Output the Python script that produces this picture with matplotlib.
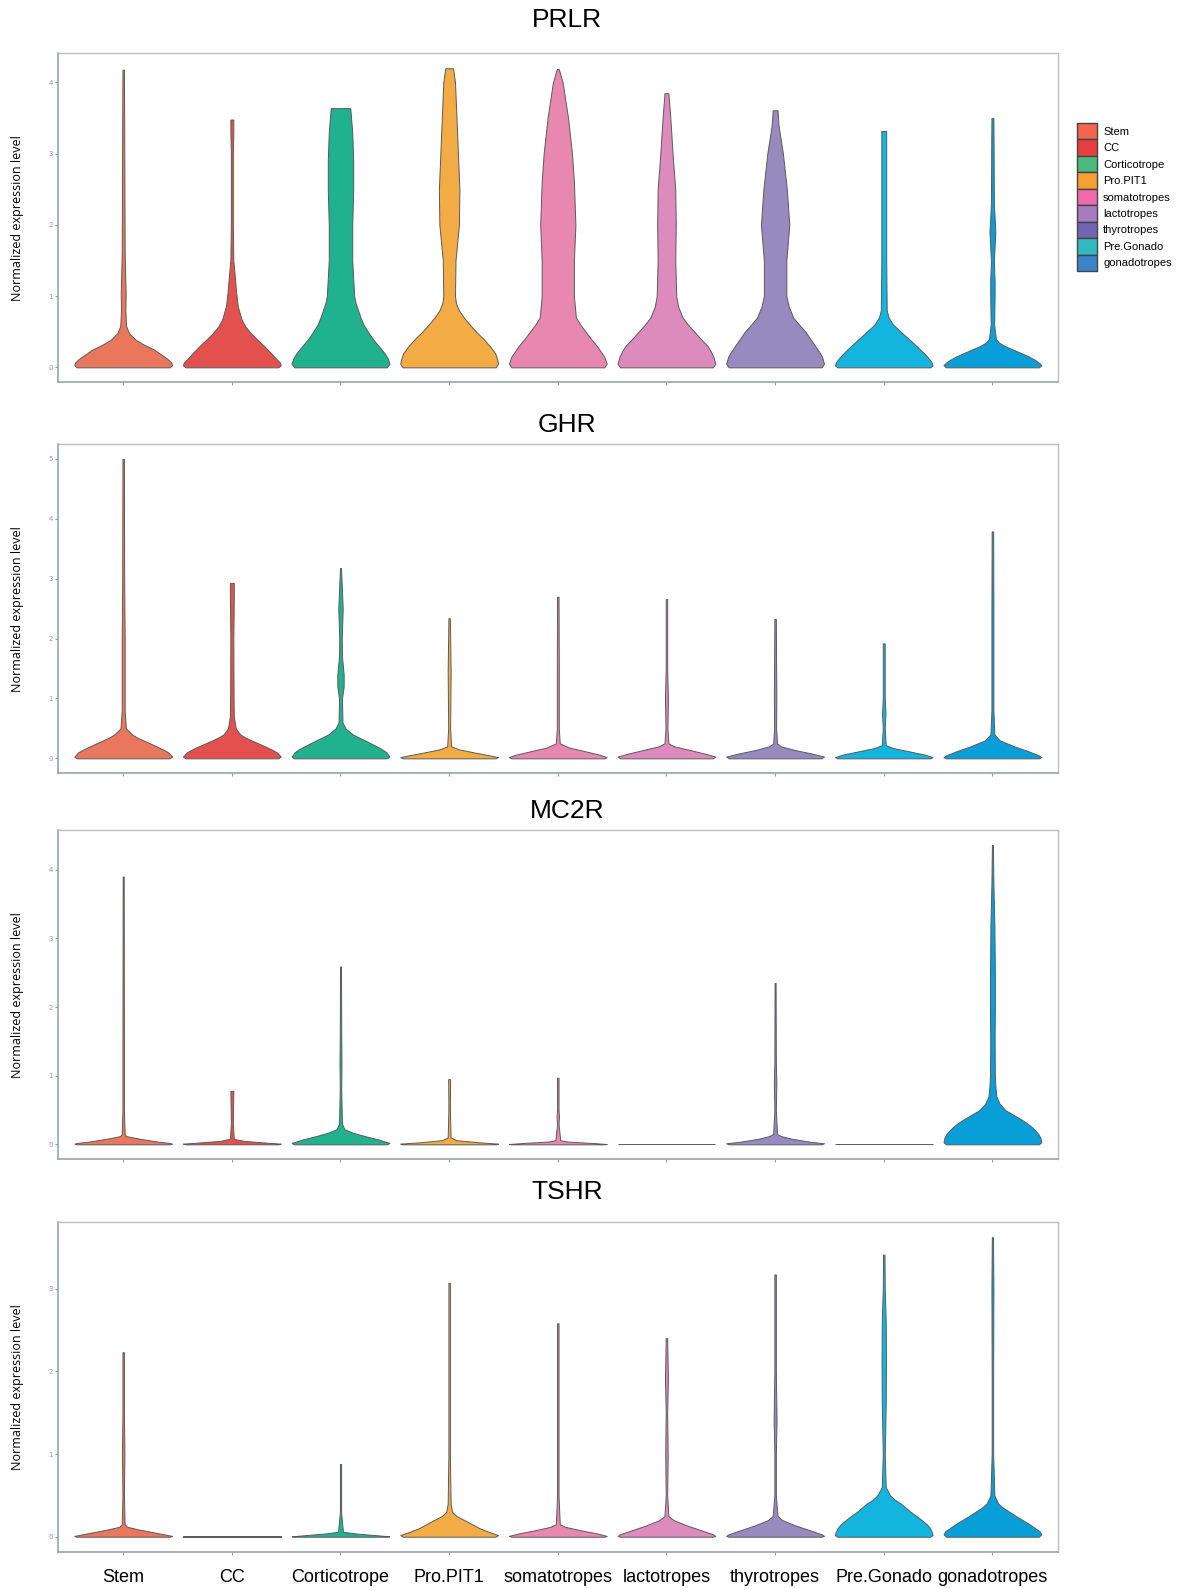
import numpy as np
import matplotlib
matplotlib.use("Agg")
import matplotlib.pyplot as plt
from matplotlib.patches import Patch

# cell types, in plot order
cell_types = ["Stem", "CC", "Corticotrope", "Pro.PIT1", "somatotropes",
              "lactotropes", "thyrotropes", "Pre.Gonado", "gonadotropes"]
genes = ["PRLR", "GHR", "MC2R", "TSHR"]

violin_colors = ["#E8775E", "#E3514F", "#20B28F", "#F2AB45", "#E888AE",
                 "#DD8ABC", "#978ABF", "#13B5DE", "#089FD8"]
legend_colors = ["#F0664F", "#E93E3F", "#4DB97E", "#F5A033", "#EF6BAA",
                 "#A67DBF", "#7265B2", "#32BAC0", "#3B84C8"]

# violin outlines: expression levels and the relative
# half width (1 = widest part of that violin) at each level
prlr_y = [
    [0, 0.03, 0.07, 0.11, 0.17, 0.25, 0.32, 0.39, 0.48, 0.58, 0.8, 1.05, 1.3, 1.6, 2.5, 3.5, 4.18],
    [0, 0.03, 0.07, 0.11, 0.2, 0.3, 0.39, 0.48, 0.57, 0.67, 0.86, 1.04, 1.32, 1.5, 2.0, 3.0, 3.3, 3.48],
    [0, 0.05, 0.12, 0.2, 0.3, 0.4, 0.5, 0.6, 0.7, 0.8, 0.9, 1.0, 1.5, 2.0, 2.5, 2.9, 3.3, 3.64],
    [0, 0.05, 0.12, 0.2, 0.3, 0.4, 0.5, 0.6, 0.7, 0.8, 0.9, 1.0, 1.5, 2.0, 2.5, 3.0, 3.5, 4.0, 4.2],
    [0, 0.05, 0.15, 0.22, 0.3, 0.4, 0.5, 0.6, 0.7, 1.0, 1.5, 2.0, 2.6, 3.0, 3.5, 4.0, 4.19],
    [0, 0.05, 0.15, 0.22, 0.3, 0.4, 0.5, 0.6, 0.7, 0.85, 1.0, 1.5, 2.0, 2.5, 3.0, 3.5, 3.85],
    [0, 0.05, 0.15, 0.22, 0.3, 0.4, 0.5, 0.6, 0.7, 0.85, 1.0, 1.5, 2.0, 2.5, 3.0, 3.4, 3.61],
    [0, 0.03, 0.08, 0.14, 0.2, 0.28, 0.35, 0.43, 0.5, 0.6, 0.7, 0.8, 1.5, 2.5, 3.32],
    [0, 0.03, 0.06, 0.1, 0.15, 0.2, 0.25, 0.3, 0.35, 0.4, 0.6, 1.0, 1.2, 1.5, 1.9, 2.3, 3.0, 3.5],
]
prlr_w = [
    [0.95, 1.0, 0.98, 0.92, 0.8, 0.63, 0.42, 0.25, 0.12, 0.06, 0.045, 0.05, 0.04, 0.03, 0.025, 0.02, 0.015],
    [0.95, 1.0, 0.98, 0.92, 0.8, 0.66, 0.52, 0.39, 0.28, 0.2, 0.12, 0.09, 0.055, 0.03, 0.02, 0.02, 0.03, 0.03],
    [0.95, 1.0, 0.97, 0.9, 0.78, 0.66, 0.56, 0.47, 0.41, 0.36, 0.31, 0.28, 0.24, 0.24, 0.26, 0.26, 0.24, 0.2],
    [0.95, 1.0, 0.98, 0.94, 0.83, 0.7, 0.55, 0.42, 0.3, 0.2, 0.14, 0.12, 0.13, 0.2, 0.21, 0.18, 0.15, 0.12, 0.08],
    [0.95, 1.0, 0.95, 0.88, 0.8, 0.68, 0.57, 0.46, 0.37, 0.33, 0.33, 0.36, 0.33, 0.29, 0.21, 0.1, 0.02],
    [0.95, 1.0, 0.96, 0.91, 0.84, 0.7, 0.57, 0.44, 0.33, 0.24, 0.2, 0.18, 0.19, 0.18, 0.125, 0.08, 0.04],
    [0.95, 1.0, 0.96, 0.9, 0.82, 0.72, 0.62, 0.49, 0.37, 0.28, 0.23, 0.23, 0.29, 0.24, 0.16, 0.07, 0.05],
    [0.95, 1.0, 0.97, 0.9, 0.82, 0.7, 0.59, 0.46, 0.35, 0.19, 0.1, 0.06, 0.05, 0.05, 0.05],
    [0.95, 1.0, 0.96, 0.88, 0.75, 0.59, 0.42, 0.25, 0.13, 0.07, 0.035, 0.045, 0.045, 0.03, 0.06, 0.03, 0.025, 0.02],
]

ghr_y = [
    [0, 0.03, 0.1, 0.15, 0.2, 0.25, 0.3, 0.35, 0.4, 0.5, 0.8, 2.0, 3.0, 5.0],
    [0, 0.03, 0.1, 0.15, 0.2, 0.25, 0.3, 0.35, 0.4, 0.5, 0.7, 1.0, 2.0, 2.7, 2.93],
    [0, 0.03, 0.1, 0.15, 0.2, 0.25, 0.3, 0.35, 0.4, 0.5, 0.6, 1.0, 1.2, 1.4, 1.7, 2.0, 2.5, 2.8, 3.18],
    [0, 0.02, 0.05, 0.1, 0.15, 0.2, 0.5, 1.45, 2.34],
    [0, 0.02, 0.06, 0.12, 0.18, 0.25, 0.5, 1.5, 2.7],
    [0, 0.03, 0.08, 0.14, 0.2, 0.25, 0.5, 1.0, 1.5, 2.66],
    [0, 0.03, 0.08, 0.14, 0.2, 0.25, 0.5, 1.0, 2.33],
    [0, 0.02, 0.06, 0.12, 0.17, 0.22, 0.5, 0.75, 1.0, 1.92],
    [0, 0.02, 0.05, 0.12, 0.2, 0.3, 0.4, 0.8, 2.5, 3.79],
]
ghr_w = [
    [0.95, 1.0, 0.92, 0.81, 0.68, 0.55, 0.41, 0.28, 0.18, 0.055, 0.03, 0.03, 0.02, 0.015],
    [0.95, 1.0, 0.92, 0.81, 0.68, 0.54, 0.4, 0.27, 0.17, 0.08, 0.04, 0.035, 0.03, 0.04, 0.04],
    [0.95, 1.0, 0.94, 0.85, 0.74, 0.62, 0.5, 0.37, 0.25, 0.1, 0.04, 0.03, 0.065, 0.065, 0.03, 0.025, 0.045, 0.03, 0.01],
    [0.95, 1.0, 0.82, 0.5, 0.2, 0.04, 0.02, 0.03, 0.015],
    [0.95, 1.0, 0.86, 0.55, 0.23, 0.04, 0.02, 0.02, 0.015],
    [0.95, 1.0, 0.78, 0.47, 0.16, 0.04, 0.02, 0.03, 0.015, 0.015],
    [0.95, 1.0, 0.75, 0.4, 0.12, 0.04, 0.02, 0.025, 0.015],
    [0.95, 1.0, 0.85, 0.5, 0.2, 0.04, 0.02, 0.035, 0.02, 0.02],
    [0.95, 1.0, 0.95, 0.73, 0.45, 0.15, 0.04, 0.02, 0.02, 0.015],
]

mc2r_y = [
    [0, 0.01, 0.02, 0.04, 0.08, 0.12, 0.15, 0.5, 1.5, 3.9],
    [0, 0.01, 0.025, 0.05, 0.08, 0.3, 0.78],
    [0, 0.02, 0.07, 0.12, 0.17, 0.22, 0.3, 0.8, 1.2, 1.6, 2.59],
    [0, 0.01, 0.03, 0.06, 0.1, 0.5, 0.95],
    [0, 0.005, 0.02, 0.04, 0.06, 0.3, 0.4, 0.5, 0.97],
    [0, 0.005],
    [0, 0.015, 0.04, 0.08, 0.12, 0.15, 0.5, 0.9, 1.2, 2.35],
    [0, 0.005],
    [0, 0.03, 0.1, 0.15, 0.2, 0.25, 0.3, 0.35, 0.4, 0.45, 0.5, 0.6, 0.7, 0.85, 1.0, 1.5, 2.0, 2.5, 3.2, 3.8, 4.36],
]
mc2r_w = [
    [0.95, 1.0, 0.95, 0.7, 0.35, 0.06, 0.03, 0.015, 0.015, 0.01],
    [0.95, 1.0, 0.7, 0.25, 0.04, 0.02, 0.03],
    [0.95, 1.0, 0.78, 0.5, 0.25, 0.08, 0.03, 0.015, 0.02, 0.015, 0.01],
    [0.95, 1.0, 0.6, 0.15, 0.03, 0.015, 0.02],
    [0.95, 1.0, 0.7, 0.2, 0.05, 0.015, 0.025, 0.015, 0.015],
    [1.0, 1.0],
    [0.95, 1.0, 0.7, 0.35, 0.12, 0.04, 0.015, 0.025, 0.015, 0.01],
    [1.0, 1.0],
    [0.95, 1.0, 0.98, 0.94, 0.88, 0.81, 0.72, 0.62, 0.5, 0.38, 0.26, 0.14, 0.08, 0.06, 0.05, 0.045, 0.05, 0.05, 0.04, 0.02, 0.01],
]

tshr_y = [
    [0, 0.01, 0.05, 0.09, 0.12, 0.15, 0.5, 1.0, 1.5, 2.23],
    [0, 0.005],
    [0, 0.005, 0.02, 0.04, 0.06, 0.3, 0.88],
    [0, 0.02, 0.05, 0.1, 0.18, 0.25, 0.3, 0.4, 1.0, 2.0, 3.07],
    [0, 0.01, 0.04, 0.08, 0.12, 0.15, 0.5, 1.0, 2.58],
    [0, 0.01, 0.03, 0.08, 0.14, 0.2, 0.25, 0.5, 1.0, 1.5, 1.9, 2.4],
    [0, 0.01, 0.03, 0.08, 0.14, 0.2, 0.25, 0.5, 1.0, 1.4, 2.0, 3.17],
    [0, 0.02, 0.06, 0.1, 0.15, 0.2, 0.25, 0.3, 0.35, 0.4, 0.45, 0.5, 0.6, 1.0, 1.6, 2.1, 2.6, 3.0, 3.41],
    [0, 0.03, 0.07, 0.1, 0.15, 0.2, 0.25, 0.3, 0.35, 0.4, 0.5, 1.0, 2.0, 3.0, 3.62],
]
tshr_w = [
    [0.95, 1.0, 0.65, 0.3, 0.08, 0.03, 0.015, 0.025, 0.015, 0.015],
    [1.0, 1.0],
    [0.95, 1.0, 0.7, 0.3, 0.05, 0.012, 0.012],
    [0.95, 1.0, 0.85, 0.63, 0.38, 0.15, 0.06, 0.03, 0.015, 0.015, 0.015],
    [0.95, 1.0, 0.8, 0.45, 0.15, 0.04, 0.015, 0.015, 0.015],
    [0.95, 1.0, 0.95, 0.7, 0.4, 0.15, 0.04, 0.015, 0.025, 0.015, 0.03, 0.015],
    [0.95, 1.0, 0.95, 0.7, 0.4, 0.15, 0.05, 0.015, 0.015, 0.03, 0.015, 0.015],
    [0.95, 1.0, 0.98, 0.95, 0.88, 0.78, 0.67, 0.55, 0.45, 0.35, 0.22, 0.13, 0.04, 0.02, 0.04, 0.045, 0.04, 0.02, 0.015],
    [0.95, 1.0, 0.96, 0.88, 0.76, 0.62, 0.48, 0.35, 0.22, 0.12, 0.04, 0.015, 0.015, 0.02, 0.012],
]

yticks = [[0, 1, 2, 3, 4], [0, 1, 2, 3, 4, 5], [0, 1, 2, 3, 4], [0, 1, 2, 3]]
profiles = [(prlr_y, prlr_w), (ghr_y, ghr_w), (mc2r_y, mc2r_w), (tshr_y, tshr_w)]

W, H = 1180, 1588
fig = plt.figure(figsize=(W / 100, H / 100), dpi=100)

# panel boxes in pixels: left, right, top, bottom
x0, x1 = 58, 1057.6
boxes = [(53.3, 382.3), (444, 773.3), (830, 1159.3), (1222.3, 1551.7)]
title_y = [20, 425, 811, 1192]

half = 0.45  # ggplot default violin width 0.9
for k, gene in enumerate(genes):
    top, bot = boxes[k]
    ax = fig.add_axes([x0 / W, 1 - bot / H, (x1 - x0) / W, (bot - top) / H])
    ys_all, ws_all = profiles[k]
    ymax = max(max(y) for y in ys_all)
    for i, (ys, ws) in enumerate(zip(ys_all, ws_all)):
        ys = np.array(ys)
        ws = np.array(ws) * half
        pos = i + 1
        ax.fill_betweenx(ys, pos - ws, pos + ws, facecolor=violin_colors[i],
                         edgecolor="#5A5A5A", linewidth=0.7)
    ax.set_xlim(0.4, 9.6)
    ax.set_ylim(-0.05 * ymax, 1.05 * ymax)
    ax.set_yticks(yticks[k])
    ax.set_xticks(range(1, 10))
    if k == 3:
        ax.set_xticklabels(cell_types, fontsize=13, family="Liberation Sans")
        ax.tick_params(axis="x", pad=10)
    else:
        ax.set_xticklabels([])
    ax.tick_params(axis="both", colors="#999999", length=2.5, width=0.8)
    ax.tick_params(axis="y", labelsize=5, pad=1, labelcolor="#999999")
    ax.tick_params(axis="x", labelcolor="black")
    for side in ["top", "right"]:
        ax.spines[side].set_color("#BDBDBD")
        ax.spines[side].set_linewidth(1.0)
    for side in ["left", "bottom"]:
        ax.spines[side].set_color("#9AA3AB")
        ax.spines[side].set_linewidth(1.2)
    fig.text(567 / W, 1 - title_y[k] / H, gene, ha="center", va="center",
             fontsize=19, family="Liberation Sans")
    fig.text(18 / W, 1 - (top + bot) / 2 / H, "Normalized expression level",
             rotation=90, ha="center", va="center", fontsize=9, family="Open Sans")

handles = [Patch(facecolor=c, edgecolor="#444444", linewidth=1.0) for c in legend_colors]
fig.legend(handles, cell_types, loc="upper left",
           bbox_to_anchor=(1077 / W, 1 - 123 / H), frameon=False,
           prop={"family": "Liberation Sans", "size": 8},
           handlelength=1.8, handleheight=1.9, labelspacing=0,
           handletextpad=0.55, borderpad=0, borderaxespad=0)

fig.savefig("out.png", dpi=100)
